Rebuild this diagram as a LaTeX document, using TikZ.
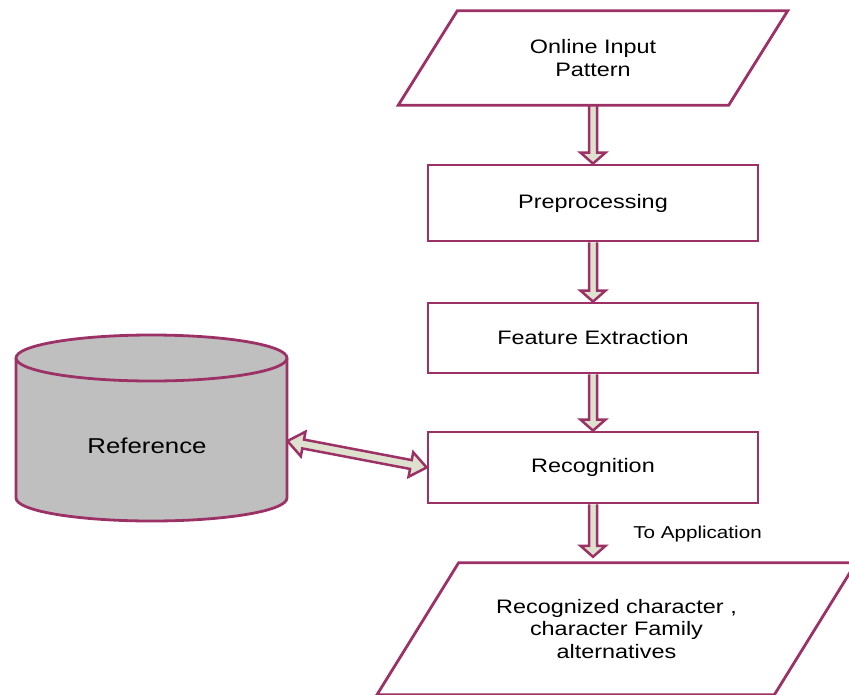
\documentclass[tikz,border=0pt]{standalone}
\usepackage{fontspec}
\setmainfont{Liberation Sans}[FakeStretch=1.2]
\usetikzlibrary{calc,backgrounds}
\definecolor{edge}{RGB}{156,49,101}
\definecolor{flowfill}{RGB}{222,225,206}
\definecolor{drum}{RGB}{191,191,191}
\newcommand\boxfont{\fontsize{19.5}{22.5}\selectfont}
\newcommand\drumfont{\fontsize{21.5}{26}\selectfont}
\newcommand\notefont{\fontsize{17.2}{20}\selectfont}
% hollow block arrow pointing down from #1 to #2 (open at the tail)
\newcommand\flowarrow[2]{%
  \filldraw[blockarrow] ($(#1)+(-4,0)$) -- ($(#2)+(-4,-11)$) -- ($(#2)+(-12.5,-11)$)
    -- (#2) -- ($(#2)+(12.5,-11)$) -- ($(#2)+(4,-11)$) -- ($(#1)+(4,0)$);}
\begin{document}
\begin{tikzpicture}[x=1pt,y=-1pt,
  stepbox/.style={draw=edge, line width=2.8pt, fill=white, minimum width=330pt,
    inner sep=0pt, font=\boxfont},
  iobox/.style={inner sep=0pt, align=center, font=\boxfont},
  blockarrow/.style={draw=edge, fill=flowfill, line width=2.5pt, line join=miter},
  outline/.style={draw=edge, line width=2.8pt}]
\useasboundingbox (0,0) rectangle (849,694);

% process steps and text of the input/output shapes
\node[iobox, minimum width=330pt, minimum height=94pt] (inp) at (593,58)
  {Online Input\\Pattern};
\node[stepbox, minimum height=76pt] (pre) at (593,203) {Preprocessing};
\node[stepbox, minimum height=70pt] (feat) at (593,338) {Feature Extraction};
\node[stepbox, minimum height=71pt] (rec) at (593,467.5) {Recognition};
\node[iobox, minimum width=397pt, minimum height=131.5pt] (out) at (616.5,628.75)
  {Recognized character ,\\character Family\\alternatives};

% reference database
\node[inner sep=0pt, minimum width=271.5pt, minimum height=186pt] (ref) at (151.5,428) {};
\node[font=\drumfont, inner sep=0pt] (reflbl) at (147,446) {Reference};

\node[font=\notefont, inner sep=0pt] (note) at (697.5,534) {To Application};

\begin{pgfonlayer}{background}
  \fill[white] (0,0) rectangle (849,694);
  \flowarrow{inp.south}{pre.north}
  \flowarrow{pre.south}{feat.north}
  \flowarrow{feat.south}{rec.north}
  \coordinate (outtip) at ($(rec.south |- out.north)+(0,-6)$);
  \flowarrow{rec.south}{outtip}

  % two-way link between the database and recognition
  \coordinate (refE) at ($(ref.east)+(0,13)$);
  \coordinate (dA) at ($(refE)!16pt!(rec.west)$);
  \coordinate (dB) at ($(rec.west)!16pt!(refE)$);
  \filldraw[blockarrow] (refE)
    -- ($(dA)!12.5pt!90:(rec.west)$) -- ($(dA)!4.5pt!90:(rec.west)$)
    -- ($(dB)!4.5pt!-90:(refE)$) -- ($(dB)!12.5pt!-90:(refE)$)
    -- (rec.west)
    -- ($(dB)!12.5pt!90:(refE)$) -- ($(dB)!4.5pt!90:(refE)$)
    -- ($(dA)!4.5pt!-90:(rec.west)$) -- ($(dA)!12.5pt!-90:(rec.west)$)
    -- cycle;

  % input and output parallelograms
  \filldraw[outline, fill=white]
    ($(inp.north west)+(29.5,0)$) -- ($(inp.north east)+(29.5,0)$)
    -- ($(inp.south east)+(-29.5,0)$) -- ($(inp.south west)+(-29.5,0)$) -- cycle;
  \filldraw[outline, fill=white]
    ($(out.north west)+(40.8,0)$) -- ($(out.north east)+(40.8,0)$)
    -- ($(out.south east)+(-40.8,0)$) -- ($(out.south west)+(-40.8,0)$) -- cycle;

  % cylinder
  \filldraw[outline, fill=drum] (16,358) -- (16,498)
    arc[start angle=180, end angle=0, x radius=135.5, y radius=23] -- (287,358);
  \filldraw[outline, fill=drum] (151.5,358) ellipse[x radius=135.5, y radius=23];
\end{pgfonlayer}
\end{tikzpicture}
\end{document}
